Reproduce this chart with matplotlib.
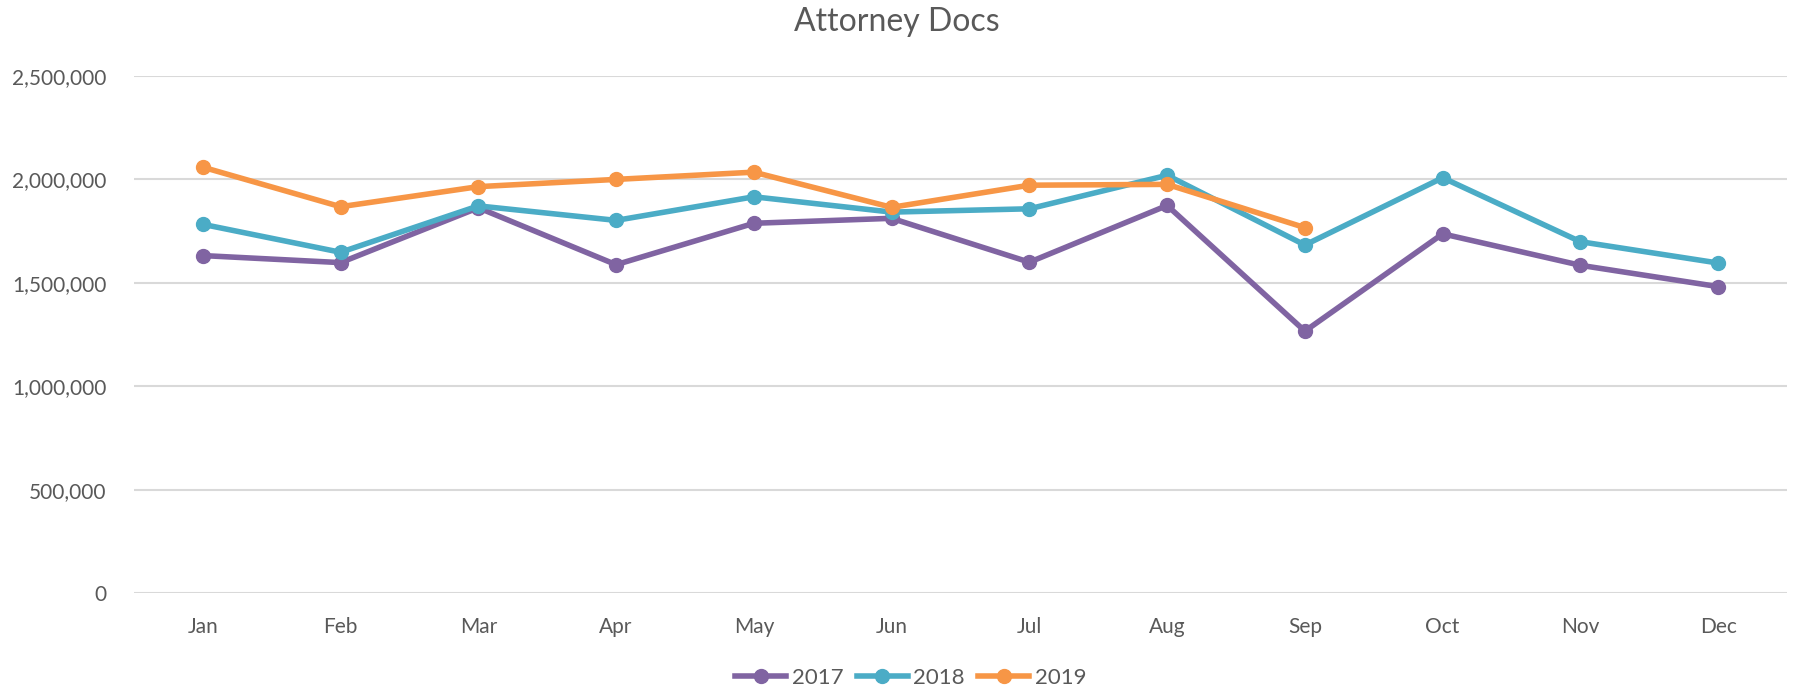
import matplotlib.pyplot as plt
import numpy as np
from matplotlib.ticker import FuncFormatter

months = ['Jan', 'Feb', 'Mar', 'Apr', 'May', 'Jun', 'Jul', 'Aug', 'Sep', 'Oct', 'Nov', 'Dec']

docs_2017 = [1632000, 1598000, 1863000, 1588000, 1788000, 1812000, 1600000, 1874000, 1267000, 1737000, 1585000, 1482000]
docs_2018 = [1783000, 1648000, 1872000, 1802000, 1916000, 1842000, 1858000, 2020000, 1683000, 2008000, 1699000, 1596000]
docs_2019 = [2059000, 1868000, 1965000, 2000000, 2035000, 1865000, 1972000, 1976000, 1767000]

series = [
    ('2017', docs_2017, '#8064A2'),
    ('2018', docs_2018, '#4BACC6'),
    ('2019', docs_2019, '#F79646'),
]

plt.rcParams['font.family'] = ['Lato', 'DejaVu Sans']
text_color = '#595959'

fig = plt.figure(figsize=(17.93, 6.90), dpi=100)
ax = fig.add_axes([0.0747, 0.140, 0.922, 0.750])

x = np.arange(len(months))
for label, vals, color in series:
    ax.plot(x[:len(vals)], vals, color=color, linewidth=4.0, marker='o',
            markersize=10, label=label, solid_joinstyle='round', zorder=3)

ax.set_xlim(-0.5, len(months) - 0.5)
ax.set_ylim(0, 2500000)
ax.set_yticks(np.arange(0, 2500001, 500000))
ax.yaxis.set_major_formatter(FuncFormatter(lambda v, p: f'{int(v):,}'))
ax.set_xticks(x)
ax.set_xticklabels(months)

ax.grid(True, axis='y', color='#D9D9D9', linewidth=1.5)
ax.set_axisbelow(True)
for side in ['top', 'right', 'left', 'bottom']:
    ax.spines[side].set_visible(False)
ax.tick_params(axis='both', length=0, labelsize=15, colors=text_color)
ax.tick_params(axis='x', pad=17)
ax.tick_params(axis='y', pad=20)

fig.suptitle('Attorney Docs', fontsize=23, color=text_color, y=0.99)

leg = fig.legend(loc='center', ncol=3, frameon=False,
                 fontsize=16, handlelength=2.3, columnspacing=0.6, handletextpad=0.25)
leg.set_bbox_to_anchor((0.508, 0.018), transform=fig.transFigure)
for t in leg.get_texts():
    t.set_color(text_color)

fig.savefig('out.png', dpi=100)
